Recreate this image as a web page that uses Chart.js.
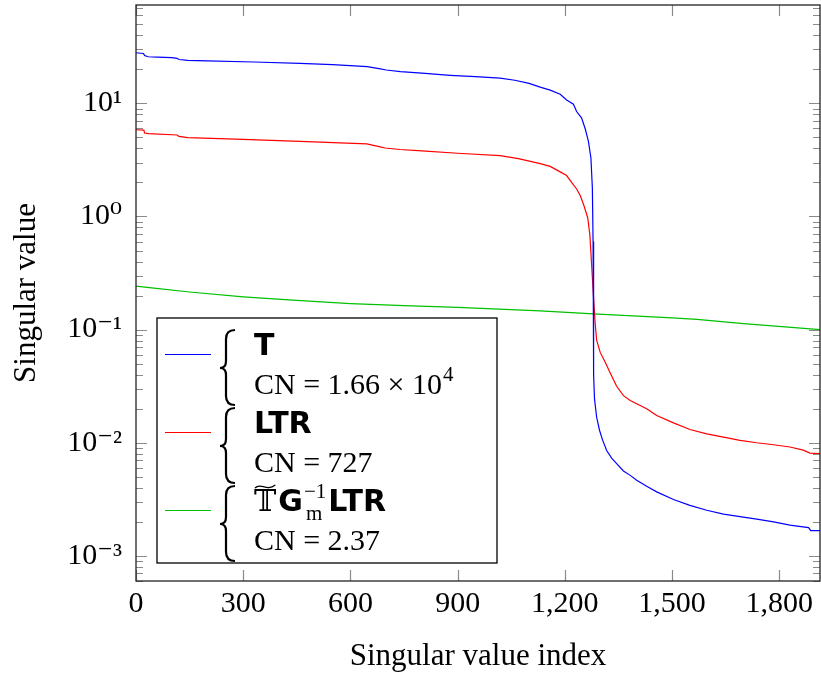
<!DOCTYPE html>
<html><head><meta charset="utf-8">
<script src="https://cdn.jsdelivr.net/npm/chart.js@4.4.1/dist/chart.umd.min.js"></script>
<style>html,body{margin:0;padding:0;background:#fff;}#wrap{width:821px;height:673px;}</style>
</head><body><div id="wrap"><canvas id="c" width="821" height="673"></canvas></div>
<script>
// ---- data ----
const tIdx = [0,21,24,34,60,100,115,120,145,200,330,459,550,647,680,700,740,800,879,950,1019,1060,1100,1131,1159,1187,1205,1224,1233,1247,1257,1266,1273,1277,1279,1280,1281,1283,1289,1297,1306,1317,1331,1345,1364,1383,1401,1429,1457,1504,1550,1597,1644,1690,1737,1784,1830,1882,1888,1914];
const tVal = [28.0,27.6,26.5,25.8,25.6,25.4,25.0,24.4,24.0,23.7,23.2,22.6,22.0,21.1,20.3,19.7,19.1,18.5,17.7,17.2,16.7,16.0,15.0,13.9,13.1,12.05,10.7,9.84,8.47,7.41,5.96,4.61,3.29,1.79,0.6,0.15,0.04,0.0244,0.0168,0.0129,0.0105,0.00855,0.00733,0.00653,0.00563,0.00515,0.00466,0.00412,0.00368,0.00315,0.0028,0.00253,0.00234,0.00222,0.00211,0.0020,0.00187,0.00178,0.00167,0.00167];
const ltrIdx = [0,22,24,36,115,120,145,300,459,646,680,697,739,800,900,1019,1070,1131,1159,1187,1205,1219,1233,1244,1254,1264,1270,1275,1280,1285,1289,1299,1313,1327,1345,1364,1383,1401,1429,1457,1504,1550,1597,1644,1690,1737,1784,1830,1867,1886,1914];
const ltrVal = [5.84,5.8,5.46,5.4,5.25,5.1,4.97,4.8,4.61,4.39,4.15,4.03,3.91,3.8,3.62,3.45,3.25,2.93,2.77,2.48,2.30,2.0,1.75,1.51,1.23,0.975,0.69,0.37,0.199,0.112,0.0807,0.0629,0.0515,0.0414,0.0316,0.0261,0.0236,0.0221,0.02,0.0174,0.015,0.0131,0.012,0.0112,0.0105,0.01,0.0096,0.00917,0.0086,0.0081,0.0080];
const preIdx = [0,50,150,300,450,600,750,900,1131,1280,1500,1570,1700,1914];
const preVal = [0.242,0.233,0.215,0.195,0.181,0.170,0.163,0.157,0.1465,0.138,0.127,0.123,0.113,0.100];

const xTicks = [0,300,600,900,1200,1500,1800];
const yMajor = [1e-3,1e-2,1e-1,1,10];
const yLabels = ['10\u207B\u00B3','10\u207B\u00B2','10\u207B\u00B9','10\u2070','10\u00B9'];
const cnText = ['CN = 1.66 \u00D7 10','CN = 727','CN = 2.37'];
const cnExp = ['4','',''];
const seriesColors = ['#0000ff','#ff0000','#00c000'];
const xTitle = 'Singular value index';
const yTitle = 'Singular value';

const SERIF = '"Liberation Serif", "DejaVu Serif", serif';
const SANSB = '"DejaVu Sans", sans-serif';

function isPow10(v){const l=Math.log10(v);return Math.abs(l-Math.round(l))<1e-9;}
function pts(ix,vals){return ix.map((x,i)=>({x:x,y:vals[i]}));}

function drawBrace(ctx,xs,top,mid,bot){
  const xr=xs+9, xt=xs-6, r=7;
  ctx.beginPath();
  ctx.moveTo(xr,top);
  ctx.quadraticCurveTo(xs,top,xs,top+r+2);
  ctx.lineTo(xs,mid-r);
  ctx.quadraticCurveTo(xs,mid,xt,mid);
  ctx.quadraticCurveTo(xs,mid,xs,mid+r);
  ctx.lineTo(xs,bot-r-2);
  ctx.quadraticCurveTo(xs,bot,xr,bot);
  ctx.stroke();
}

const framePlugin = {
  id:'frame',
  afterDatasetsDraw(chart){
    const {ctx, chartArea:a, scales:{x,y}} = chart;
    ctx.save();
    ctx.strokeStyle='#8a8a8a'; ctx.lineWidth=1.2;
    ctx.beginPath();
    y.ticks.forEach(t=>{
      const py=Math.round(y.getPixelForValue(t.value))+0.5;
      const L=isPow10(t.value)?11:7;
      ctx.moveTo(a.left,py); ctx.lineTo(a.left+L,py);
      ctx.moveTo(a.right,py); ctx.lineTo(a.right-L,py);
    });
    x.ticks.forEach(t=>{
      const px=Math.round(x.getPixelForValue(t.value))+0.5;
      ctx.moveTo(px,a.bottom); ctx.lineTo(px,a.bottom-11);
      ctx.moveTo(px,a.top); ctx.lineTo(px,a.top+11);
    });
    ctx.stroke();
    ctx.strokeStyle='#222'; ctx.lineWidth=1.3;
    ctx.strokeRect(a.left,a.top,a.right-a.left,a.bottom-a.top);

    // legend
    const bx=a.left+21, by=318, bw=340, bh=245;
    ctx.fillStyle='#fff'; ctx.fillRect(bx,by,bw,bh);
    ctx.strokeStyle='#000'; ctx.lineWidth=1.3; ctx.strokeRect(bx,by,bw,bh);
    const ds=chart.data.datasets;
    const tx=bx+97;
    ds.forEach((d,i)=>{
      const ly=by+36+i*78;
      ctx.strokeStyle=d.borderColor; ctx.lineWidth=1.2;
      ctx.beginPath(); ctx.moveTo(bx+8,ly+0.5); ctx.lineTo(bx+54,ly+0.5); ctx.stroke();
      ctx.strokeStyle='#000'; ctx.lineWidth=2.2;
      drawBrace(ctx,bx+69,ly-24,ly+14,ly+51);
      ctx.fillStyle='#000'; ctx.textBaseline='alphabetic'; ctx.textAlign='left';
      const b1=ly+1, b2=ly+40;
      if(i<2){
        ctx.font='bold 30px '+SANSB;
        ctx.fillText(d.label,tx,b1);
      } else {
        let cx=tx;
        ctx.font='30px "DejaVu Serif", "DejaVu Sans", serif';
        const T='\uD835\uDD4B';
        ctx.fillText(T,cx,b1);
        const w1=ctx.measureText(T).width;
        ctx.lineWidth=1.3;
        ctx.beginPath();
        const ty=b1-25;
        ctx.moveTo(cx+1,ty+2);
        ctx.bezierCurveTo(cx+w1*0.3,ty-4,cx+w1*0.55,ty+6,cx+w1-1,ty-1);
        ctx.stroke();
        cx+=w1+2;
        ctx.font='bold 30px '+SANSB; ctx.fillText('G',cx,b1); cx+=ctx.measureText('G').width+1;
        ctx.font='21px '+SERIF;
        ctx.fillText('\u22121',cx,b1-13); const ws=ctx.measureText('\u22121').width;
        ctx.fillText('m',cx+2,b1+9); const wm=ctx.measureText('m').width+2;
        cx+=Math.max(ws,wm)+2;
        ctx.font='bold 30px '+SANSB; ctx.fillText('LTR',cx,b1);
      }
      ctx.font='30px '+SERIF;
      ctx.fillText(cnText[i],tx,b2);
      if(cnExp[i]){
        const w=ctx.measureText(cnText[i]).width;
        ctx.font='21px '+SERIF;
        ctx.fillText(cnExp[i],tx+w+1,b2-13);
      }
    });
    ctx.restore();
  }
};

new Chart(document.getElementById('c'),{
  type:'line',
  data:{datasets:[
    {label:'T',data:pts(tIdx,tVal),borderColor:seriesColors[0]},
    {label:'LTR',data:pts(ltrIdx,ltrVal),borderColor:seriesColors[1]},
    {label:'TGm-1LTR',data:pts(preIdx,preVal),borderColor:seriesColors[2]}
  ]},
  options:{
    responsive:false, animation:false, devicePixelRatio:1,
    datasets:{line:{borderWidth:1.2,pointRadius:0,tension:0,fill:false}},
    layout:{padding:{top:5,right:1,left:0,bottom:0}},
    plugins:{legend:{display:false},tooltip:{enabled:false}},
    scales:{
      x:{type:'linear',min:0,max:1914,
        afterBuildTicks(s){s.ticks=xTicks.map(v=>({value:v}));},
        afterFit(s){s.height=92;s.paddingLeft=0;s.paddingRight=0;},
        grid:{display:false,drawTicks:false},border:{display:false},
        ticks:{autoSkip:false,maxRotation:0,padding:5,color:'#000',font:{family:SERIF,size:30},
          callback:v=>Number(v).toLocaleString('en-US')},
        title:{display:true,text:xTitle,color:'#000',font:{family:SERIF,size:31,lineHeight:1},padding:{top:0,bottom:1}}
      },
      y:{type:'logarithmic',min:6.3e-4,max:74,
        afterBuildTicks(s){
          const t=[];
          for(let e=-4;e<=2;e++){for(let m=1;m<=9;m++){const v=m*Math.pow(10,e);if(v>=s.min&&v<=s.max)t.push({value:v});}}
          s.ticks=t;
        },
        afterFit(s){s.width=136;s.paddingTop=0;s.paddingBottom=0;},
        grid:{display:false,drawTicks:false},border:{display:false},
        ticks:{autoSkip:false,padding:14,color:'#000',font:{family:SERIF,size:30},
          callback:function(v){if(!isPow10(v))return '';const k=yMajor.findIndex(m=>Math.abs(Math.log10(m)-Math.log10(v))<1e-6);return k>=0?yLabels[k]:'';}},
        title:{display:true,text:yTitle,color:'#000',font:{family:SERIF,size:31,lineHeight:1},padding:{top:11,bottom:0}}
      }
    }
  },
  plugins:[framePlugin]
});
</script></body></html>
